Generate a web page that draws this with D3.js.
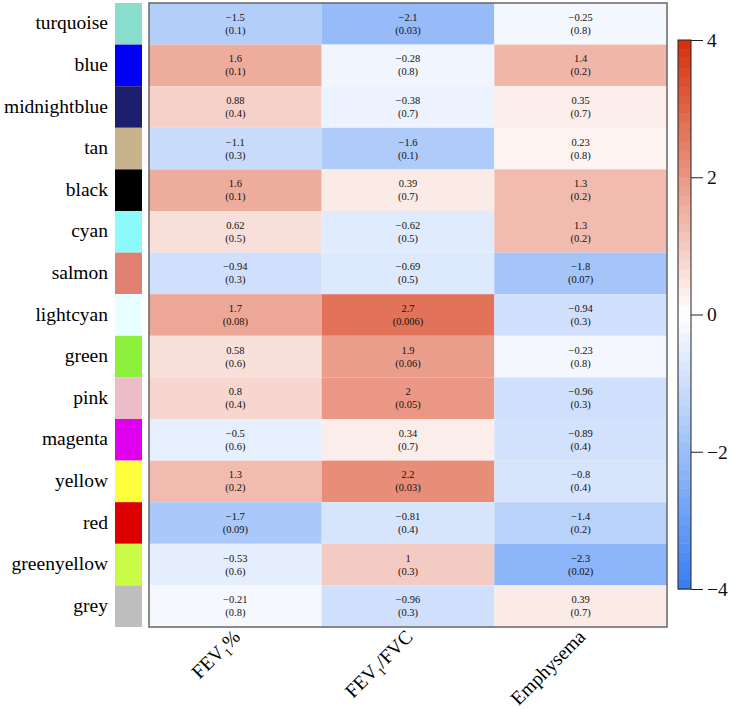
<!DOCTYPE html>
<html><head><meta charset="utf-8">
<script src="https://cdn.jsdelivr.net/npm/d3@7"></script>
<style>body{margin:0;background:#fff}svg{display:block}svg text{font-family:"Liberation Serif","Times New Roman",Times,serif !important}</style>
</head><body><svg id="c" width="731" height="709"></svg>
<script>
const modules = ["turquoise","blue","midnightblue","tan","black","cyan","salmon","lightcyan","green","pink","magenta","yellow","red","greenyellow","grey"];
const swatchColors = ["#88ddcc","#0000f5","#1e1e6e","#c8b28c","#000000","#8cfafa","#e08070","#e8ffff","#8cf03c","#ecbcc8","#e000f0","#ffff3c","#dc0000","#c8fa46","#bebebe"];
const traits = ["FEV1%","FEV1/FVC","Emphysema"];
const fev1pct = [-1.5,1.6,0.88,-1.1,1.6,0.62,-0.94,1.7,0.58,0.8,-0.5,1.3,-1.7,-0.53,-0.21];
const fev1pctP = ["0.1","0.1","0.4","0.3","0.1","0.5","0.3","0.08","0.6","0.4","0.6","0.2","0.09","0.6","0.8"];
const fev1fvc = [-2.1,-0.28,-0.38,-1.6,0.39,-0.62,-0.69,2.7,1.9,2,0.34,2.2,-0.81,1,-0.96];
const fev1fvcP = ["0.03","0.8","0.7","0.1","0.7","0.5","0.5","0.006","0.06","0.05","0.7","0.03","0.4","0.3","0.3"];
const emph = [-0.25,1.4,0.35,0.23,1.3,1.3,-1.8,-0.94,-0.23,-0.96,-0.89,-0.8,-1.4,-2.3,0.39];
const emphP = ["0.8","0.2","0.7","0.8","0.2","0.2","0.07","0.3","0.8","0.3","0.4","0.4","0.2","0.02","0.7"];
const colorbarTicks = [4,2,0,-2,-4];

const values = [fev1pct, fev1fvc, emph];
const pvals = [fev1pctP, fev1fvcP, emphP];
const cells = [];
modules.forEach((m,i)=>traits.forEach((t,j)=>cells.push({m,t,v:values[j][i],p:pvals[j][i]})));

const svg = d3.select("#c");
const L=149, R=667, T=3, B=627;
const x = d3.scaleBand().domain(traits).range([L,R]);
const y = d3.scaleBand().domain(modules).range([T,B]);
const color = d3.scaleLinear().domain([-4,0,4]).range(["rgb(55,125,242)","#ffffff","rgb(212,48,10)"]).interpolate(d3.interpolateRgb);
const fmt = v => (v<0?"\u2212":"") + Math.abs(v);

svg.append("g").selectAll("rect").data(cells).join("rect")
  .attr("x",d=>x(d.t)).attr("y",d=>y(d.m)).attr("width",x.bandwidth()).attr("height",y.bandwidth())
  .attr("fill",d=>color(d.v));

const tg = svg.append("g").attr("font-size",10.5).attr("text-anchor","middle").attr("fill","#111");
tg.selectAll("text.v").data(cells).join("text").attr("class","v")
  .attr("x",d=>x(d.t)+x.bandwidth()/2).attr("y",d=>y(d.m)+y.bandwidth()/2-3).text(d=>fmt(d.v));
tg.selectAll("text.p").data(cells).join("text").attr("class","p")
  .attr("x",d=>x(d.t)+x.bandwidth()/2).attr("y",d=>y(d.m)+y.bandwidth()/2+10).text(d=>"("+d.p+")");

svg.append("rect").attr("x",L).attr("y",T).attr("width",R-L).attr("height",B-T)
  .attr("fill","none").attr("stroke","#666").attr("stroke-width",1.5);

// swatches
svg.append("g").selectAll("rect").data(modules).join("rect")
  .attr("x",115).attr("y",d=>y(d)).attr("width",27).attr("height",y.bandwidth())
  .attr("fill",(d,i)=>swatchColors[i]);
svg.append("g").attr("font-size",19.5).attr("text-anchor","end").selectAll("text").data(modules).join("text")
  .attr("x",108).attr("y",d=>y(d)+y.bandwidth()/2+5.5).text(d=>d);

// x labels
const xl = svg.append("g").attr("font-size",19.5).attr("text-anchor","end");
traits.forEach(t=>{
  const cx = x(t)+x.bandwidth()/2+6, cy=638;
  const tx = xl.append("text").attr("transform",`translate(${cx},${cy}) rotate(-45)`);
  if(t.startsWith("FEV1")){
    tx.append("tspan").text("FEV");
    tx.append("tspan").attr("font-size",12).attr("dy",5).text("1");
    tx.append("tspan").attr("dy",-5).text(t.slice(4));
  } else tx.text(t);
});

// colorbar
const cy = d3.scaleLinear().domain([-4,4]).range([589,40]);
const steps = d3.range(-4,4,8/60);
svg.append("g").selectAll("rect").data(steps).join("rect")
  .attr("x",678).attr("width",13).attr("y",d=>cy(d+8/60)).attr("height",cy(0)-cy(8/60)+0.5)
  .attr("fill",d=>color(d+4/60));
svg.append("rect").attr("x",678).attr("y",40).attr("width",13).attr("height",549)
  .attr("fill","none").attr("stroke","#222").attr("stroke-width",1);
const ax = svg.append("g").attr("transform","translate(691,0)")
  .call(d3.axisRight(cy).tickValues(colorbarTicks).tickSize(12).tickPadding(4).tickFormat(fmt));
ax.attr("font-family",null);
ax.select(".domain").remove();
ax.selectAll("line").attr("stroke","#222");
ax.selectAll("text").attr("font-size",19.5).attr("fill","#111");
</script></body></html>
